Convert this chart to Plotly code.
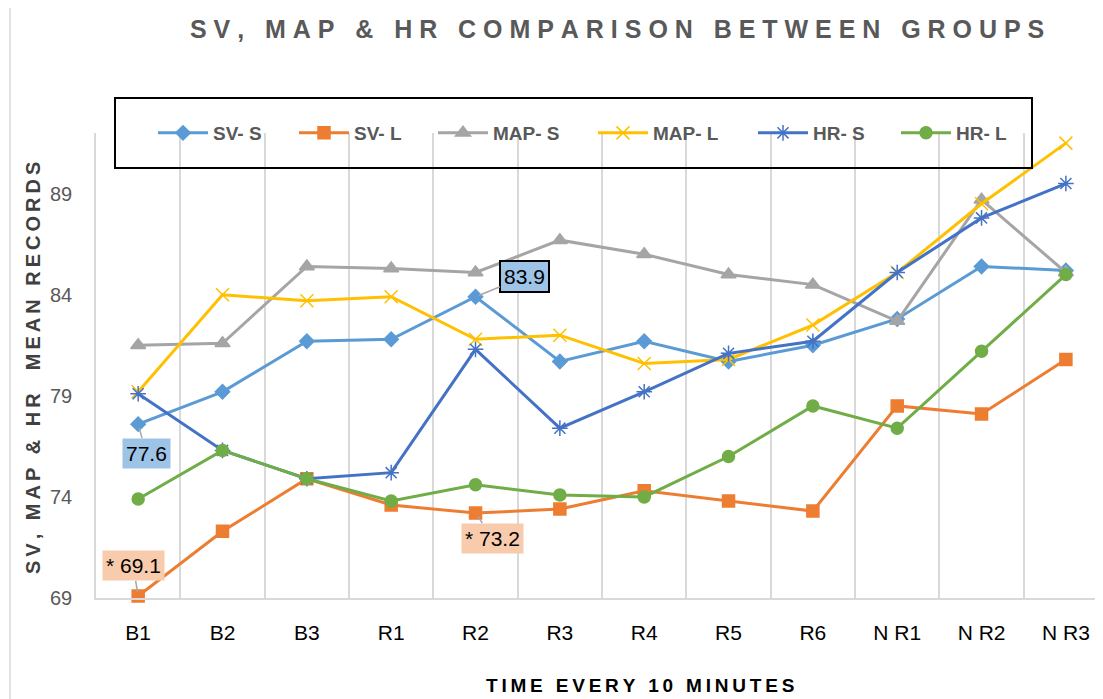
import plotly.graph_objects as go

categories = ["B1", "B2", "B3", "R1", "R2", "R3", "R4", "R5", "R6", "N R1", "N R2", "N R3"]
sv_s = [77.6, 79.2, 81.7, 81.8, 83.9, 80.7, 81.7, 80.7, 81.5, 82.8, 85.4, 85.2]
sv_l = [69.1, 72.3, 74.9, 73.6, 73.2, 73.4, 74.3, 73.8, 73.3, 78.5, 78.1, 80.8]
map_s = [81.5, 81.6, 85.4, 85.3, 85.1, 86.7, 86.0, 85.0, 84.5, 82.7, 88.7, 85.1]
map_l = [79.2, 84.0, 83.7, 83.9, 81.8, 82.0, 80.6, 80.8, 82.5, 85.1, 88.5, 91.5]
hr_s = [79.1, 76.3, 74.9, 75.2, 81.3, 77.4, 79.2, 81.1, 81.7, 85.1, 87.8, 89.5]
hr_l = [73.9, 76.3, 74.9, 73.8, 74.6, 74.1, 74.0, 76.0, 78.5, 77.4, 81.2, 85.0]
y_ticks = [69, 74, 79, 84, 89]

series = [
    ("SV- S", sv_s, "#5b9bd5", "diamond", 11),
    ("SV- L", sv_l, "#ed7d31", "square", 12),
    ("MAP- S", map_s, "#a5a5a5", "triangle-up", 13),
    ("MAP- L", map_l, "#ffc000", "x-thin-open", 13),
    ("HR- S", hr_s, "#4472c4", "asterisk-open", 13),
    ("HR- L", hr_l, "#70ad47", "circle", 12),
]
# page x where each legend text starts
legend_text_x = [213, 354, 493, 653, 813, 956]


def spaced(s, sep="\u00a0"):
    return sep.join(list(s))


# page -> paper helpers (plot area on page: x 96..1103, y 133..598)
def px(x):
    return (x - 96) / 1007


def py(y):
    return (598 - y) / 465


font = "Liberation Sans, Arial, sans-serif"
LEG_W = 50

fig = go.Figure()
legends = {}
for k, (name, vals, col, sym, sz) in enumerate(series):
    lid = "legend" if k == 0 else f"legend{k + 1}"
    fig.add_trace(go.Scatter(
        x=categories, y=vals, name="<b>" + name + "</b>", mode="lines+markers",
        line=dict(color=col, width=3),
        marker=dict(symbol=sym, size=sz, color=col, line=dict(color=col, width=1.5)),
        cliponaxis=False, legend=lid,
    ))
    legends[lid] = dict(
        x=px(legend_text_x[k] - LEG_W - 10), y=1.0, xanchor="left", yanchor="middle",
        orientation="h", itemwidth=LEG_W, bgcolor="rgba(0,0,0,0)",
        font=dict(size=19, color="#595959", family=font), borderwidth=0,
    )

ann = []
labels = [
    (0, sv_s[0], "77.6", "#9dc3e6", None, 8, 29),
    (4, sv_s[4], "83.9", "#9dc3e6", "#000000", 49, -20),
    (0, sv_l[0], "* 69.1", "#f8cbad", None, -5, -30),
    (4, sv_l[4], "* 73.2", "#f8cbad", None, 17, 25),
]
for i, v, txt, bg, bc, ax, ay in labels:
    d = dict(x=categories[i], y=v, xref="x", yref="y", text=txt,
             showarrow=True, arrowhead=0, arrowcolor="#a6a6a6", arrowwidth=1.5,
             ax=ax, ay=ay, bgcolor=bg, font=dict(size=21, color="#000000", family=font),
             borderpad=3, standoff=4)
    if bc:
        d["bordercolor"] = bc
        d["borderwidth"] = 2
    ann.append(d)

ann.append(dict(text="<b>" + spaced("SV, MAP & HR COMPARISON BETWEEN GROUPS") + "</b>",
                xref="paper", yref="paper", x=px(617), y=py(29),
                showarrow=False, xanchor="center", yanchor="middle",
                font=dict(size=25, color="#595959", family=font)))
ann.append(dict(text="<b>" + spaced("SV, MAP & HR  MEAN RECORDS", "\u2009") + "</b>",
                xref="paper", yref="paper", x=px(33), y=py(368),
                showarrow=False, textangle=-90, xanchor="center", yanchor="middle",
                font=dict(size=20, color="#404040", family=font)))
ann.append(dict(text="<b>" + spaced("TIME EVERY 10 MINUTES", "\u2009") + "</b>",
                xref="paper", yref="paper", x=px(640), y=py(685),
                showarrow=False, xanchor="center", yanchor="middle",
                font=dict(size=19, color="#000000", family=font)))

shapes = [
    dict(type="rect", xref="paper", yref="paper",
         x0=px(115), x1=px(1032), y0=py(168), y1=py(98),
         line=dict(color="#000000", width=2), fillcolor="rgba(0,0,0,0)"),
    dict(type="line", xref="paper", yref="paper",
         x0=px(10), x1=px(10), y0=py(710), y1=py(0),
         line=dict(color="#d9d9d9", width=1.5)),
]

fig.update_layout(
    width=1095, height=691,
    margin=dict(l=88, r=0, t=125, b=101),
    paper_bgcolor="white", plot_bgcolor="white",
    font=dict(family=font),
    showlegend=True,
    annotations=ann,
    shapes=shapes,
    xaxis=dict(type="category", range=[-0.5, 11.44], tickson="boundaries",
               showgrid=True, gridcolor="#d9d9d9", gridwidth=1.5,
               showline=True, linecolor="#d9d9d9", linewidth=2,
               ticks="", ticklabelstandoff=15,
               tickfont=dict(size=21, color="#000000", family=font)),
    yaxis=dict(range=[69, 92], tickvals=y_ticks, showgrid=False, zeroline=False,
               showline=True, linecolor="#d9d9d9", linewidth=1.5,
               ticks="", ticklabelstandoff=18,
               tickfont=dict(size=20, color="#595959", family=font)),
    **legends,
)

fig.write_html("out.html")
